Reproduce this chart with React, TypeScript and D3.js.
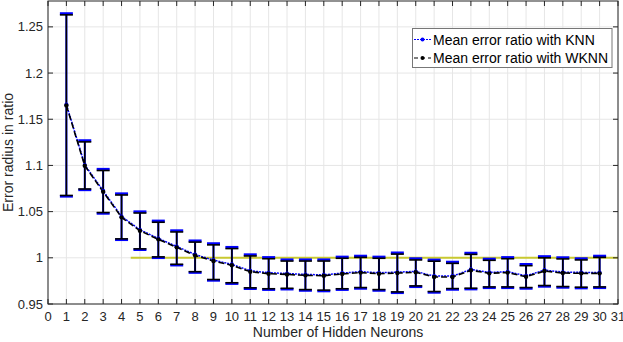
import React from "react";
import * as d3 from "d3";

const neurons = d3.range(1, 31);
const xTicks = d3.range(0, 32);
const yTicks = [0.95, 1, 1.05, 1.1, 1.15, 1.2, 1.25];

const knnMean = [1.166, 1.1006, 1.0725, 1.0448, 1.0303, 1.021, 1.0123, 1.0036, 0.9975, 0.9929, 0.986, 0.9838, 0.983, 0.982, 0.9816, 0.9835, 0.985, 0.9838, 0.9845, 0.9853, 0.9802, 0.9802, 0.9875, 0.9842, 0.985, 0.9805, 0.9867, 0.9845, 0.9842, 0.9842];
const knnHi = [1.2645, 1.127, 1.096, 1.0695, 1.05, 1.04, 1.0295, 1.0185, 1.0155, 1.0115, 1.0035, 1.0005, 0.998, 0.998, 0.998, 1.001, 1.002, 1.001, 1.0055, 0.9992, 0.9978, 0.9955, 1.0052, 0.9988, 1.0005, 0.993, 1.0015, 1.0003, 0.9992, 1.002];
const knnLo = [1.0665, 1.0735, 1.048, 1.0195, 1.0087, 1.0, 0.992, 0.984, 0.9755, 0.972, 0.9665, 0.9655, 0.966, 0.9646, 0.964, 0.9655, 0.9668, 0.9646, 0.9621, 0.9686, 0.9625, 0.9657, 0.9661, 0.9675, 0.9675, 0.9668, 0.969, 0.9679, 0.9672, 0.9675];

const wknnMean = [1.165, 1.0996, 1.0715, 1.0438, 1.0293, 1.02, 1.0113, 1.0026, 0.9965, 0.9919, 0.985, 0.9828, 0.982, 0.981, 0.9806, 0.9825, 0.984, 0.9828, 0.9835, 0.9843, 0.9792, 0.9792, 0.9865, 0.9832, 0.984, 0.9795, 0.9857, 0.9835, 0.9832, 0.9832];
const wknnHi = [1.263, 1.1255, 1.0945, 1.068, 1.0485, 1.0385, 1.028, 1.017, 1.014, 1.01, 1.002, 0.999, 0.9965, 0.9965, 0.9965, 0.9995, 1.0005, 0.9995, 1.004, 0.9977, 0.9963, 0.994, 1.0037, 0.9973, 0.999, 0.9915, 1.0, 0.9988, 0.9977, 1.0005];
const wknnLo = [1.0675, 1.0745, 1.049, 1.0205, 1.0097, 1.001, 0.993, 0.985, 0.9765, 0.973, 0.9675, 0.9665, 0.967, 0.9656, 0.965, 0.9665, 0.9678, 0.9656, 0.9631, 0.9696, 0.9635, 0.9667, 0.9671, 0.9685, 0.9685, 0.9678, 0.97, 0.9689, 0.9682, 0.9685];

const refLineX = [4.5, 31];
const refLineY = 1;

const seriesNames = ["Mean error ratio with KNN", "Mean error ratio with WKNN"];

const W = 623, H = 342;
const L = 48, R = 618, T = 1, B = 304;
const FONT = "'Liberation Sans', Arial, Helvetica, sans-serif";
const AX = "#262626";

export default function App() {
  const x = d3.scaleLinear().domain([0, 31]).range([L, R]);
  const y = d3.scaleLinear().domain([0.95, 1.278]).range([B, T]);
  const line = d3.line<number>().x((_, i) => x(neurons[i])).y((d) => y(d));
  const cap = 6.5;

  const errBars = (lo: number[], hi: number[], color: string, sw: number, capW: number, key: string) =>
    neurons.map((n, i) => {
      const cx = x(n);
      return (
        <g key={key + i} stroke={color} strokeWidth={sw} fill="none">
          <line x1={cx} x2={cx} y1={y(lo[i])} y2={y(hi[i])} />
          <line x1={cx - cap} x2={cx + cap} y1={y(lo[i])} y2={y(lo[i])} strokeWidth={capW} />
          <line x1={cx - cap} x2={cx + cap} y1={y(hi[i])} y2={y(hi[i])} strokeWidth={capW} />
        </g>
      );
    });

  return (
    <div style={{ position: "absolute", left: 0, top: 0 }}>
      <svg width={W} height={H} style={{ display: "block", background: "#fff" }} fontFamily={FONT}>
        <rect x={0} y={0} width={W} height={H} fill="#fff" />
        {/* grid */}
        <g stroke="#e6e6e6" strokeWidth={1}>
          {xTicks.map((t) => (
            <line key={"gx" + t} x1={x(t)} x2={x(t)} y1={T} y2={B} />
          ))}
          {yTicks.map((t) => (
            <line key={"gy" + t} x1={L} x2={R} y1={y(t)} y2={y(t)} />
          ))}
        </g>
        {/* reference line */}
        <line x1={x(refLineX[0])} x2={x(refLineX[1])} y1={y(refLineY)} y2={y(refLineY)} stroke="#c9c930" strokeWidth={2} />
        {/* KNN */}
        {errBars(knnLo, knnHi, "#0000ff", 2, 2.5, "kb")}
        <path d={line(knnMean) || ""} fill="none" stroke="#0000ff" strokeWidth={1.5} strokeDasharray="2,1" />
        {/* WKNN */}
        {errBars(wknnLo, wknnHi, "#000", 1.6, 1.6, "wb")}
        <path d={line(wknnMean) || ""} fill="none" stroke="#000" strokeWidth={1.6} strokeDasharray="6,3" />
        {knnMean.map((v, i) => (
          <circle key={"km" + i} cx={x(neurons[i])} cy={y(v)} r={2} fill="#0000ff" />
        ))}
        {wknnMean.map((v, i) => (
          <circle key={"wm" + i} cx={x(neurons[i])} cy={y(v)} r={2.2} fill="#000" />
        ))}
        {/* axes box and ticks */}
        <rect x={L} y={T} width={R - L} height={B - T} fill="none" stroke={AX} strokeWidth={1} />
        <g stroke={AX} strokeWidth={1}>
          {xTicks.map((t) => (
            <g key={"tx" + t}>
              <line x1={x(t)} x2={x(t)} y1={B} y2={B - 5} />
              <line x1={x(t)} x2={x(t)} y1={T} y2={T + 5} />
            </g>
          ))}
          {yTicks.map((t) => (
            <g key={"ty" + t}>
              <line x1={L} x2={L + 5} y1={y(t)} y2={y(t)} />
              <line x1={R} x2={R - 5} y1={y(t)} y2={y(t)} />
            </g>
          ))}
        </g>
        <g fill={AX} fontSize={13}>
          {xTicks.map((t) => (
            <text key={"lx" + t} x={x(t)} y={B + 16.5} textAnchor="middle">{t}</text>
          ))}
          {yTicks.map((t) => (
            <text key={"ly" + t} x={L - 5} y={y(t) + 4.5} textAnchor="end">{String(t)}</text>
          ))}
          <text x={(L + R) / 2 + 5} y={336.5} textAnchor="middle" fontSize={14}>Number of Hidden Neurons</text>
          <text transform={`translate(12.5,${(T + B) / 2}) rotate(-90)`} textAnchor="middle" fontSize={14}>Error radius in ratio</text>
        </g>
        {/* legend */}
        <g>
          <rect x={412.5} y={28.5} width={199.5} height={39} fill="#fff" stroke="#777" strokeWidth={1} />
          <line x1={414} x2={431} y1={39.5} y2={39.5} stroke="#0000ff" strokeWidth={1.2} strokeDasharray="2,1" />
          <circle cx={422.5} cy={39.5} r={2} fill="#0000ff" />
          <line x1={414} x2={431} y1={58} y2={58} stroke="#000" strokeWidth={1.2} strokeDasharray="4,3" />
          <circle cx={422.5} cy={58} r={2} fill="#000" />
          <text x={433} y={44.5} fontSize={14} fill="#000">{seriesNames[0]}</text>
          <text x={433} y={63} fontSize={14} fill="#000">{seriesNames[1]}</text>
        </g>
      </svg>
    </div>
  );
}
